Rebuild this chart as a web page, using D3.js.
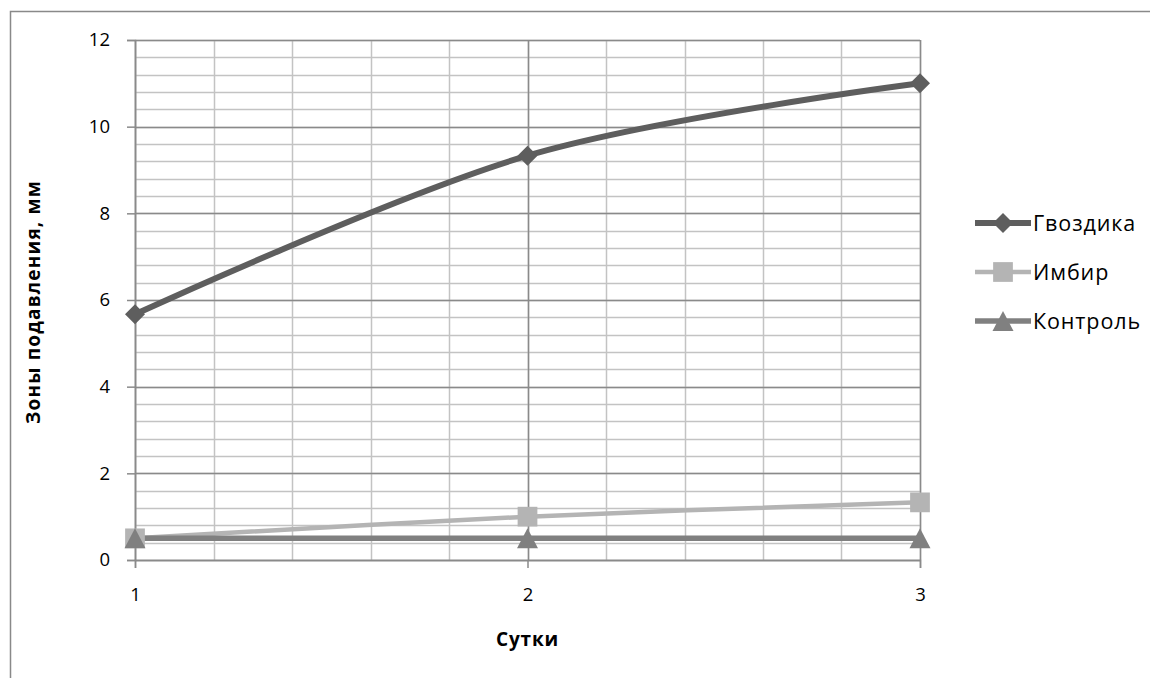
<!DOCTYPE html>
<html><head><meta charset="utf-8">
<script src="https://cdn.jsdelivr.net/npm/d3@7"></script>
<style>body{margin:0;background:#fff}svg{display:block}text{font-family:"Open Sans","Noto Sans",sans-serif}</style>
</head><body><svg id="c" width="1150" height="678"></svg>
<script>
const days = [1, 2, 3];
const gvozdika = [5.67, 9.33, 11];
const imbir = [0.5, 1.0, 1.33];
const kontrol = [0.5, 0.5, 0.5];
const seriesNames = ["Гвоздика", "Имбир", "Контроль"];
const yTicks = [0, 2, 4, 6, 8, 10, 12];
const xTitle = "Сутки";
const yTitle = "Зоны подавления, мм";

const svg = d3.select("#c");
const x = d3.scaleLinear().domain([1, 3]).range([135, 920]);
const y = d3.scaleLinear().domain([0, 12]).range([560, 40]);

// outer border
svg.append("path").attr("d", "M10.5,678 V11.5 H1150").attr("fill", "none").attr("stroke", "#898989").attr("stroke-width", 1.5);

// minor grid
const g = svg.append("g");
const minorY = d3.range(0, 12.001, 0.4);
g.selectAll(".my").data(minorY).enter().append("line")
  .attr("x1", x(1)).attr("x2", x(3)).attr("y1", d => Math.round(y(d)) + 0.5).attr("y2", d => Math.round(y(d)) + 0.5)
  .attr("stroke", "#c3c3c3").attr("stroke-width", 1.5);
const minorX = d3.range(1, 3.001, 0.2);
g.selectAll(".mx").data(minorX).enter().append("line")
  .attr("y1", y(0)).attr("y2", y(12)).attr("x1", d => Math.round(x(d)) + 0.5).attr("x2", d => Math.round(x(d)) + 0.5)
  .attr("stroke", "#c3c3c3").attr("stroke-width", 1.5);
// major grid
g.selectAll(".My").data(yTicks).enter().append("line")
  .attr("x1", x(1)).attr("x2", x(3)).attr("y1", d => Math.round(y(d)) + 0.5).attr("y2", d => Math.round(y(d)) + 0.5)
  .attr("stroke", "#8a8a8a").attr("stroke-width", 1.5);
g.selectAll(".Mx").data(days).enter().append("line")
  .attr("y1", y(0)).attr("y2", y(12)).attr("x1", d => Math.round(x(d)) + 0.5).attr("x2", d => Math.round(x(d)) + 0.5)
  .attr("stroke", "#8a8a8a").attr("stroke-width", 1.5);

// axes
const yAxis = svg.append("g").attr("transform", `translate(${x(1)},0)`)
  .call(d3.axisLeft(y).tickValues(yTicks).tickSize(8).tickPadding(17).tickFormat(d3.format("d")));
const xAxis = svg.append("g").attr("transform", `translate(0,${y(0)})`)
  .call(d3.axisBottom(x).tickValues(days).tickSize(8).tickPadding(20).tickFormat(d3.format("d")));
[yAxis, xAxis].forEach(a => {
  a.select(".domain").attr("stroke", "#8a8a8a").attr("stroke-width", 1.5);
  a.selectAll(".tick line").attr("stroke", "#8a8a8a").attr("stroke-width", 1.5);
  a.selectAll("text").attr("font-size", 18.5).attr("fill", "#000").style("font-family", '"Open Sans",sans-serif');
});

// titles
svg.append("text").attr("x", (x(1) + x(3)) / 2).attr("y", 646).attr("text-anchor", "middle")
  .attr("font-size", 19).attr("letter-spacing", 0.8).attr("font-weight", "bold").text(xTitle);
svg.append("text").attr("transform", `translate(40,${y(6) + 2}) rotate(-90)`).attr("text-anchor", "middle")
  .attr("font-size", 19).attr("letter-spacing", 1.2).attr("font-weight", "bold").text(yTitle);

// markers
const diamond = d3.symbol().type(d3.symbolSquare).size(200)();
const square = d3.symbol().type(d3.symbolSquare).size(390)();
const triangle = "M0,-10L10.5,10L-10.5,10Z";

const series = [
  {name: seriesNames[0], vals: gvozdika, color: "#5e5e5e", width: 6, marker: diamond, rot: 45},
  {name: seriesNames[1], vals: imbir, color: "#b4b4b4", width: 4.5, marker: square, rot: 0},
  {name: seriesNames[2], vals: kontrol, color: "#808080", width: 5.5, marker: triangle, rot: 0}
];
const line = d3.line().x((d, i) => x(days[i])).y(d => y(d)).curve(d3.curveCardinal.tension(0));
series.forEach(s => {
  svg.append("path").datum(s.vals).attr("d", line).attr("fill", "none")
    .attr("stroke", s.color).attr("stroke-width", s.width).attr("stroke-linejoin", "round");
});
series.forEach(s => {
  svg.selectAll(null).data(s.vals).enter().append("path")
    .attr("d", s.marker)
    .attr("transform", (d, i) => `translate(${x(days[i])},${y(d)}) rotate(${s.rot})`)
    .attr("fill", s.color);
});

// legend
const lg = svg.append("g");
series.forEach((s, i) => {
  const cy = 223 + i * 49;
  lg.append("line").attr("x1", 975).attr("x2", 1031).attr("y1", cy).attr("y2", cy)
    .attr("stroke", s.color).attr("stroke-width", s.width);
  lg.append("path").attr("d", s.marker)
    .attr("transform", `translate(1003,${cy}) rotate(${s.rot})`).attr("fill", s.color);
  lg.append("text").attr("x", 1033).attr("y", cy).attr("dy", "0.36em").attr("font-size", 21.5)
    .attr("letter-spacing", 0.9).text(s.name);
});
</script></body></html>
